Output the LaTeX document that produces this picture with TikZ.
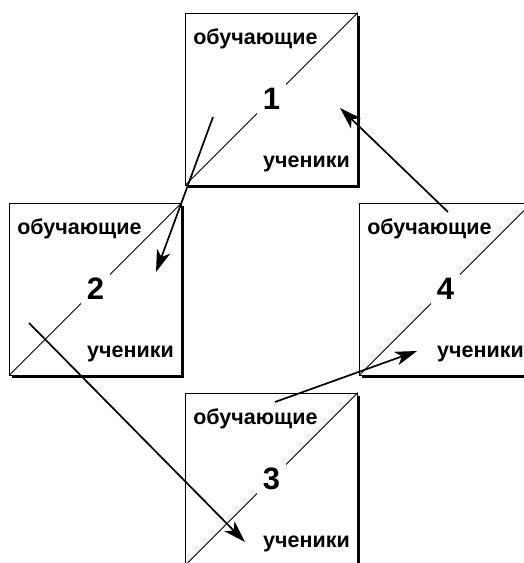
\documentclass[tikz,border=0pt]{standalone}
\usepackage{fontspec}
\setmainfont{Liberation Sans}
\usetikzlibrary{shadows,arrows.meta}

\tikzset{
    group/.style={
        draw,
        fill=white,
        line width=0.9pt,
        minimum size=172pt,
        inner sep=0pt,
        drop shadow={shadow xshift=2.5pt, shadow yshift=-2.5pt, fill=black, opacity=1}
    },
    diag/.style={line width=0.75pt},
    num/.style={fill=white, inner sep=6pt, font=\fontsize{31}{35}\selectfont\bfseries},
    role/.style={inner sep=0pt, font=\fontsize{21.5}{25}\selectfont\bfseries},
    flow/.style={-{Stealth[length=22pt, width=14pt, inset=6pt]}, line width=1.7pt}
}

\begin{document}
\begin{tikzpicture}[x=1pt, y=-1pt]
    \clip (0,0) rectangle (524,563);

    \node[group] (s1) at (271.5,99) {};
    \node[group] (s2) at (95.5,289) {};
    \node[group] (s3) at (271.5,479) {};
    \node[group] (s4) at (445.5,289) {};

    \draw[diag] (s1.south west) -- (s1.north east);
    \draw[diag] (s2.south west) -- (s2.north east);
    \draw[diag] (s3.south west) -- (s3.north east);
    \draw[diag] (s4.south west) -- (s4.north east);

    \node[num] (n1) at (s1.center) {1};
    \node[num] (n2) at (s2.center) {2};
    \node[num] (n3) at (s3.center) {3};
    \node[num] (n4) at (s4.center) {4};

    \node[role, anchor=base west, xshift=8pt, yshift=-32pt] (t1) at (s1.north west) {обучающие};
    \node[role, anchor=base west, xshift=8pt, yshift=-32pt] (t2) at (s2.north west) {обучающие};
    \node[role, anchor=base west, xshift=8pt, yshift=-32pt] (t3) at (s3.north west) {обучающие};
    \node[role, anchor=base west, xshift=8pt, yshift=-32pt] (t4) at (s4.north west) {обучающие};

    \node[role, anchor=base east, xshift=-8pt, yshift=18pt] (u1) at (s1.south east) {ученики};
    \node[role, anchor=base east, xshift=-8pt, yshift=18pt] (u2) at (s2.south east) {ученики};
    \node[role, anchor=base east, xshift=-8pt, yshift=18pt] (u3) at (s3.south east) {ученики};
    \node[role, anchor=base east, xshift=-8pt, yshift=18pt] (u4) at (s4.south east) {ученики};

    % passing from one group to the next
    \coordinate (out1) at (213,117);
    \coordinate (in2) at (156,272);
    \coordinate (out2) at (29,323);
    \coordinate (in3) at (245,542);
    \coordinate (out3) at (275,402);
    \coordinate (in4) at (417,351);
    \coordinate (out4) at (448,212);
    \coordinate (in1) at (340,108);

    \draw[flow] (out1) -- (in2);
    \draw[flow] (out2) -- (in3);
    \draw[flow] (out3) -- (in4);
    \draw[flow] (out4) -- (in1);
\end{tikzpicture}
\end{document}
